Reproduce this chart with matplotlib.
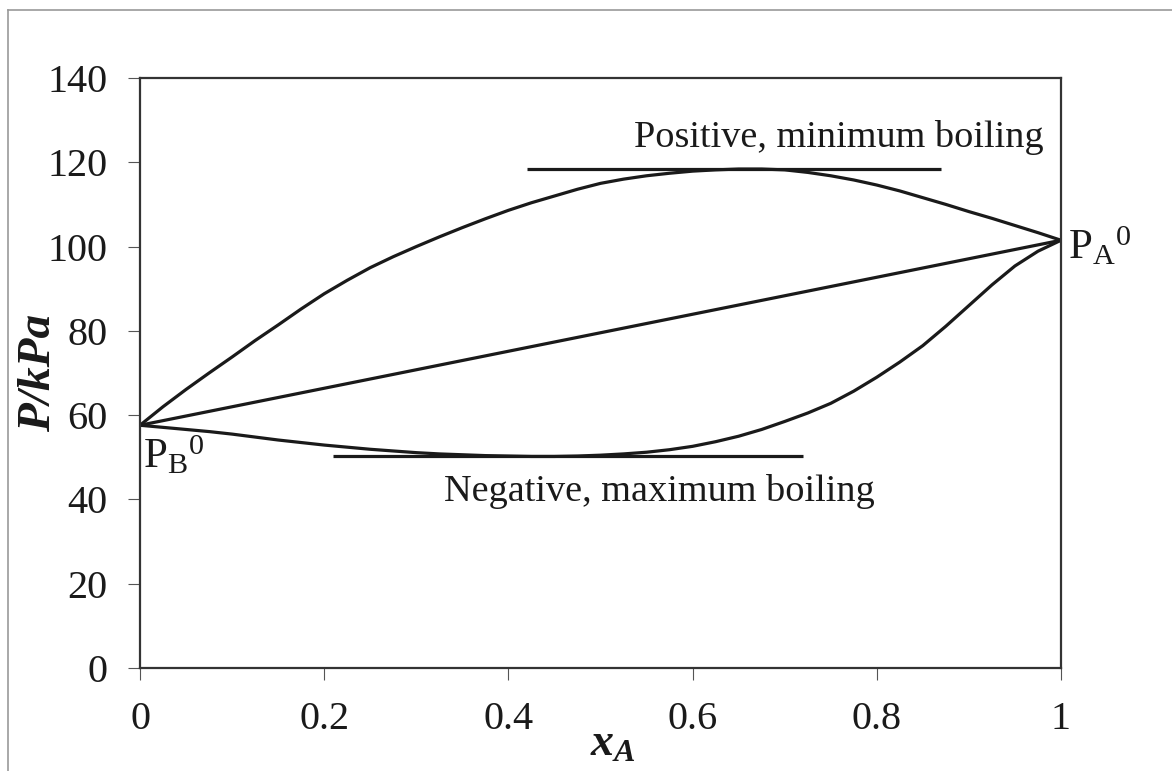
import matplotlib
matplotlib.use("Agg")
import matplotlib.pyplot as plt
from matplotlib.lines import Line2D

plt.rcParams["font.family"] = ["Liberation Serif", "DejaVu Serif"]
plt.rcParams["mathtext.fontset"] = "custom"
plt.rcParams["mathtext.rm"] = "Liberation Serif"
plt.rcParams["mathtext.it"] = "Liberation Serif:italic"
plt.rcParams["mathtext.bf"] = "Liberation Serif:bold"
plt.rcParams["mathtext.bfit"] = "Liberation Serif:bold:italic"

# mole fraction of A
x_a = [0.000, 0.025, 0.050, 0.075, 0.100, 0.125, 0.150, 0.175, 0.200, 0.225,
       0.250, 0.275, 0.300, 0.325, 0.350, 0.375, 0.400, 0.425, 0.450, 0.475,
       0.500, 0.525, 0.550, 0.575, 0.600, 0.625, 0.650, 0.675, 0.700, 0.725,
       0.750, 0.775, 0.800, 0.825, 0.850, 0.875, 0.900, 0.925, 0.950, 0.975,
       1.000]
# positive deviation (minimum boiling azeotrope), kPa
p_positive = [57.6, 62.0, 66.1, 70.0, 73.8, 77.7, 81.4, 85.2, 88.8, 92.0,
              95.0, 97.6, 100.0, 102.3, 104.5, 106.6, 108.6, 110.4, 112.0, 113.6,
              115.0, 116.0, 116.8, 117.4, 117.9, 118.2, 118.4, 118.4, 118.2, 117.6,
              116.8, 115.8, 114.6, 113.2, 111.6, 110.0, 108.3, 106.7, 105.0, 103.3,
              101.5]
# negative deviation (maximum boiling azeotrope), kPa
p_negative = [57.6, 57.1, 56.6, 56.1, 55.5, 54.8, 54.1, 53.5, 52.9, 52.4,
              51.9, 51.5, 51.1, 50.8, 50.6, 50.4, 50.3, 50.2, 50.2, 50.3,
              50.5, 50.8, 51.2, 51.8, 52.6, 53.7, 55.0, 56.6, 58.5, 60.5,
              62.8, 65.7, 69.0, 72.6, 76.5, 81.1, 86.0, 90.9, 95.4, 98.9,
              101.5]
# ideal (Raoult) line
x_ideal = [0.0, 1.0]
p_ideal = [57.6, 101.5]
# tangent marks at the extrema
x_max_line = [0.42, 0.87]
p_max_line = [118.5, 118.5]
x_min_line = [0.21, 0.72]
p_min_line = [50.2, 50.2]

x_ticks = [0, 0.2, 0.4, 0.6, 0.8, 1]
x_tick_labels = ["0", "0.2", "0.4", "0.6", "0.8", "1"]
y_ticks = [0, 20, 40, 60, 80, 100, 120, 140]

fig = plt.figure(figsize=(11.72, 7.71), dpi=100)
ax = fig.add_axes([140 / 1172, 1 - 668 / 771, 921 / 1172, 590 / 771])

line_kw = dict(color="#1a1a1a", lw=2.3, solid_capstyle="butt",
               solid_joinstyle="round")
ax.plot(x_a, p_positive, **line_kw)
ax.plot(x_a, p_negative, **line_kw)
ax.plot(x_ideal, p_ideal, **line_kw)
ax.plot(x_max_line, p_max_line, **line_kw)
ax.plot(x_min_line, p_min_line, **line_kw)

ax.set_xlim(0, 1)
ax.set_ylim(0, 140)
ax.set_xticks(x_ticks)
ax.set_xticklabels(x_tick_labels)
ax.set_yticks(y_ticks)
ax.tick_params(direction="out", length=8.5, width=0.8, color="#555555",
               pad=15, labelsize=29, labelcolor="#1a1a1a")
for sp in ax.spines.values():
    sp.set_linewidth(1.6)
    sp.set_color("#333333")

ax.text(0.536, 125.8, "Positive, minimum boiling", fontsize=27.5,
        ha="left", va="center", color="#1a1a1a")
ax.text(0.33, 42.0, "Negative, maximum boiling", fontsize=27.5,
        ha="left", va="center", color="#1a1a1a")
ax.text(1.008, 97.0, r"$\mathrm{P}_{\mathrm{A}}{}^{0}$", fontsize=31,
        ha="left", va="baseline", color="#1a1a1a", clip_on=False)
ax.text(0.003, 47.4, r"$\mathrm{P}_{\mathrm{B}}{}^{0}$", fontsize=31,
        ha="left", va="baseline", color="#1a1a1a")

ax.text(-0.11, 0.5, "P/kPa", transform=ax.transAxes, rotation=90,
        fontsize=34, fontweight="bold", fontstyle="italic",
        ha="center", va="center", color="#1a1a1a")
ax.text(0.514, -0.13, r"$\mathbfit{x}_{\mathbfit{A}}$", transform=ax.transAxes,
        fontsize=33, ha="center", va="center", color="#1a1a1a")

# gray frame around the figure (top and left edges visible)
fig.add_artist(Line2D([8 / 1172, 8 / 1172], [0, 1 - 10 / 771],
                      color="#999999", lw=1.2, transform=fig.transFigure))
fig.add_artist(Line2D([8 / 1172, 1], [1 - 10 / 771, 1 - 10 / 771],
                      color="#999999", lw=1.2, transform=fig.transFigure))

fig.savefig("out.png", dpi=100)
